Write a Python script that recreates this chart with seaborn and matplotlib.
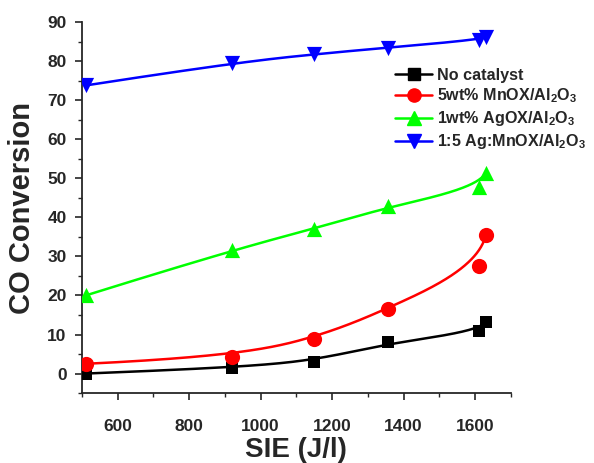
import numpy as np
import pandas as pd
import matplotlib
matplotlib.use("Agg")
import matplotlib.pyplot as plt
from matplotlib.lines import Line2D
from matplotlib.ticker import MultipleLocator
import seaborn as sns

# Specific input energy (J/l) and CO conversion (%) for each catalyst
sie = [510, 920, 1150, 1355, 1610, 1630]
no_catalyst = [0.0, 1.5, 3.0, 8.0, 10.8, 13.2]
mnox = [2.5, 4.3, 8.8, 16.5, 27.6, 35.5]
agox = [20.0, 31.7, 37.0, 42.8, 47.7, 51.5]
ag_mnox = [73.8, 79.6, 81.8, 83.5, 85.5, 86.2]

series_names = ["No catalyst", r"5wt% MnOX/Al$_2$O$_3$",
                r"1wt% AgOX/Al$_2$O$_3$", r"1:5 Ag:MnOX/Al$_2$O$_3$"]
series_values = [no_catalyst, mnox, agox, ag_mnox]
colors = ["#000000", "#ff0000", "#00ff00", "#0000ff"]
markers = ["s", "o", "^", "v"]
marker_sizes = [80, 120, 120, 120]


def bspline(x, y, n=400, degree=3):
    """Clamped B-spline using the measured points as control points."""
    P = np.column_stack([x, y]).astype(float)
    k = degree
    nc = len(P)
    knots = np.concatenate([np.zeros(k), np.linspace(0, 1, nc - k + 1), np.ones(k)])
    ts = np.linspace(0, 1, n)
    ts[-1] = 1 - 1e-12

    def basis(i, p, t):
        if p == 0:
            return np.where((knots[i] <= t) & (t < knots[i + 1]), 1.0, 0.0)
        out = np.zeros_like(t)
        d1 = knots[i + p] - knots[i]
        d2 = knots[i + p + 1] - knots[i + 1]
        if d1 > 0:
            out += (t - knots[i]) / d1 * basis(i, p - 1, t)
        if d2 > 0:
            out += (knots[i + p + 1] - t) / d2 * basis(i + 1, p - 1, t)
        return out

    B = np.column_stack([basis(i, k, ts) for i in range(nc)])
    C = B @ P
    return C[:, 0], C[:, 1]


sns.set_style("ticks")
plt.rcParams["font.family"] = ["Liberation Sans", "DejaVu Sans"]
plt.rcParams["font.weight"] = "bold"
plt.rcParams["mathtext.fontset"] = "custom"
plt.rcParams["mathtext.rm"] = "Liberation Sans:bold"
plt.rcParams["mathtext.bf"] = "Liberation Sans:bold"
plt.rcParams["mathtext.it"] = "Liberation Sans:bold"
plt.rcParams["mathtext.default"] = "bf"

fig = plt.figure(figsize=(5.94, 4.63), dpi=100)
ax = fig.add_axes([0.138, 0.151, 0.722, 0.801])

handles = []
for name, vals, c, mk, ms in zip(series_names, series_values, colors, markers, marker_sizes):
    xs, ys = bspline(sie, vals)
    curve = pd.DataFrame({"x": xs, "y": ys})
    sns.lineplot(data=curve, x="x", y="y", ax=ax, color=c, linewidth=1.8,
                 sort=False, estimator=None, zorder=2)
    pts = pd.DataFrame({"x": sie, "y": vals})
    sns.scatterplot(data=pts, x="x", y="y", ax=ax, color=c, marker=mk,
                    s=ms, linewidth=0, zorder=3)
    handles.append(Line2D([], [], color=c, lw=1.8, marker=mk,
                          markersize=8 if mk == "s" else 9.5, label=name))

ax.set_xlim(500, 1700)
ax.set_ylim(-5, 90)
ax.xaxis.set_major_locator(MultipleLocator(200))
ax.xaxis.set_minor_locator(MultipleLocator(100))
ax.yaxis.set_major_locator(MultipleLocator(10))
ax.yaxis.set_minor_locator(MultipleLocator(5))
ax.set_xticks([600, 800, 1000, 1200, 1400, 1600])
ax.tick_params(which="major", length=5, width=1.2, labelsize=12.5, direction="out")
ax.tick_params(which="minor", length=3, width=1.0, direction="out")
for lab in ax.get_xticklabels() + ax.get_yticklabels():
    lab.set_fontweight("bold")
ax.tick_params(axis="x", pad=14)
ax.tick_params(axis="y", pad=6)

for side in ["top", "right"]:
    ax.spines[side].set_visible(False)
for side in ["left", "bottom"]:
    ax.spines[side].set_linewidth(1.3)

ax.set_xlabel("SIE (J/l)", fontsize=20, fontweight="bold", labelpad=2)
ax.set_ylabel("CO Conversion", fontsize=21, fontweight="bold", labelpad=8)

leg = ax.legend(handles=handles, loc="upper left", bbox_to_anchor=(0.715, 0.895),
                frameon=False, fontsize=11.6, handlelength=2.3, handletextpad=0.3,
                labelspacing=0.25, borderaxespad=0)
for t in leg.get_texts():
    t.set_fontweight("bold")

fig.savefig("out.png", dpi=100)
